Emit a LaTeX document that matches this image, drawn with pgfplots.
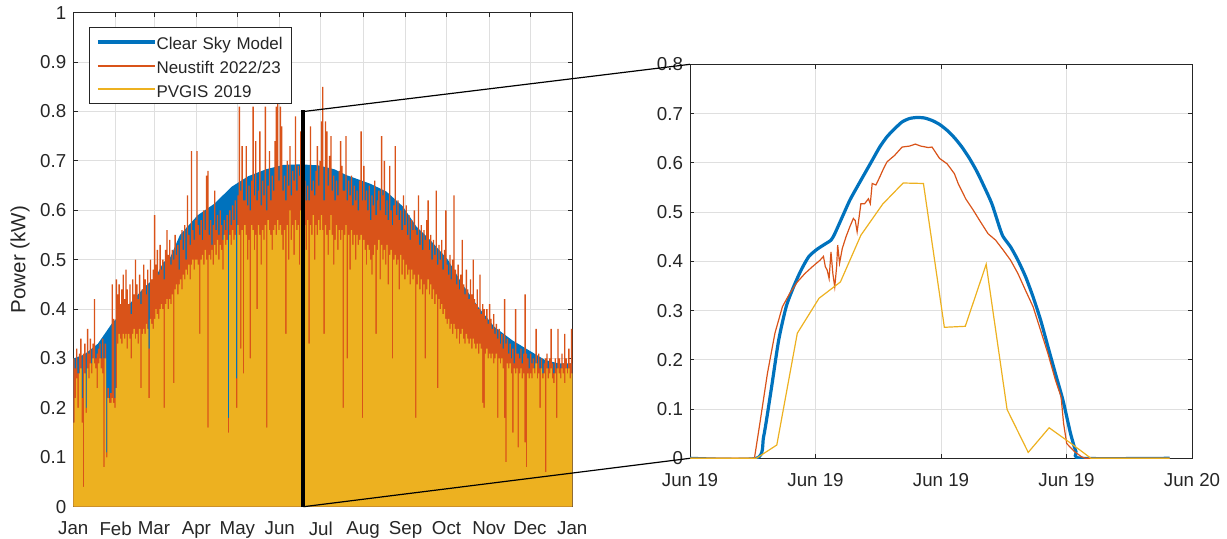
\documentclass[border=0pt]{standalone}
\usepackage{pgfplots}
\pgfplotsset{compat=1.18}
\usepackage{pgfplotstable}
\usepackage{fontspec}
\setmainfont{Liberation Sans}
\definecolor{mblue}{RGB}{0,114,189}
\definecolor{morange}{RGB}{217,83,25}
\definecolor{myellow}{RGB}{237,177,32}
\definecolor{maxis}{RGB}{38,38,38}
\definecolor{mgrid}{RGB}{223,223,223}

% daily peak power, day of year: d, Neustift n, PVGIS p
\pgfplotstableread{
d n p
0 0.30 0.17
1 0.28 0.22
2 0.32 0.26
3 0.27 0.20
4 0.31 0.27
5 0.34 0.28
6 0.22 0.17
7 0.31 0.04
8 0.33 0.27
9 0.20 0.19
10 0.36 0.28
11 0.31 0.26
12 0.34 0.29
13 0.29 0.27
14 0.33 0.30
15 0.42 0.29
16 0.30 0.28
17 0.31 0.24
18 0.32 0.29
19 0.33 0.30
20 0.30 0.28
21 0.34 0.27
22 0.30 0.08
23 0.33 0.30
24 0.11 0.10
25 0.24 0.22
26 0.22 0.21
27 0.23 0.21
28 0.45 0.22
29 0.38 0.21
30 0.22 0.20
31 0.46 0.24
32 0.43 0.33
33 0.45 0.35
34 0.41 0.34
35 0.44 0.33
36 0.47 0.35
37 0.42 0.34
38 0.48 0.35
39 0.44 0.32
40 0.41 0.35
41 0.45 0.34
42 0.39 0.30
43 0.46 0.35
44 0.43 0.36
45 0.50 0.34
46 0.45 0.35
47 0.42 0.33
48 0.47 0.36
49 0.41 0.24
50 0.44 0.35
51 0.49 0.36
52 0.46 0.35
53 0.43 0.37
54 0.48 0.36
55 0.32 0.22
56 0.50 0.38
57 0.46 0.37
58 0.48 0.36
59 0.59 0.38
60 0.49 0.40
61 0.52 0.39
62 0.47 0.38
63 0.53 0.40
64 0.48 0.41
65 0.50 0.40
66 0.46 0.20
67 0.52 0.41
68 0.56 0.42
69 0.51 0.40
70 0.54 0.42
71 0.49 0.41
72 0.52 0.43
73 0.50 0.25
74 0.55 0.44
75 0.51 0.45
76 0.53 0.43
77 0.48 0.45
78 0.54 0.46
79 0.56 0.44
80 0.52 0.47
81 0.57 0.46
82 0.50 0.48
83 0.63 0.47
84 0.55 0.49
85 0.53 0.46
86 0.72 0.49
87 0.56 0.50
88 0.54 0.48
89 0.58 0.50
90 0.72 0.50
91 0.57 0.49
92 0.55 0.35
93 0.58 0.50
94 0.54 0.51
95 0.60 0.49
96 0.56 0.52
97 0.67 0.50
98 0.68 0.16
99 0.55 0.51
100 0.58 0.50
101 0.53 0.52
102 0.57 0.49
103 0.64 0.53
104 0.56 0.51
105 0.59 0.54
106 0.55 0.50
107 0.60 0.53
108 0.57 0.52
109 0.54 0.48
110 0.58 0.55
111 0.56 0.53
112 0.59 0.54
113 0.18 0.15
114 0.60 0.55
115 0.57 0.53
116 0.61 0.56
117 0.58 0.54
118 0.62 0.55
119 0.26 0.20
120 0.63 0.57
121 0.81 0.55
122 0.64 0.32
123 0.73 0.56
124 0.62 0.27
125 0.62 0.57
126 0.73 0.55
127 0.61 0.50
128 0.65 0.54
129 0.60 0.30
130 0.66 0.57
131 0.81 0.56
132 0.63 0.52
133 0.74 0.55
134 0.62 0.40
135 0.64 0.57
136 0.76 0.55
137 0.61 0.49
138 0.66 0.56
139 0.63 0.54
140 0.81 0.57
141 0.60 0.16
142 0.65 0.58
143 0.72 0.56
144 0.62 0.55
145 0.67 0.52
146 0.64 0.56
147 0.74 0.57
148 0.81 0.55
149 0.83 0.58
150 0.66 0.56
151 0.81 0.57
152 0.77 0.55
153 0.64 0.52
154 0.67 0.56
155 0.62 0.35
156 0.70 0.57
157 0.65 0.50
158 0.73 0.60
159 0.63 0.54
160 0.68 0.57
161 0.66 0.51
162 0.79 0.58
163 0.64 0.56
164 0.69 0.57
165 0.67 0.49
166 0.76 0.60
167 0.63 0.56
168 0.64 0.56
169 0.66 0.57
170 0.62 0.52
171 0.65 0.58
172 0.62 0.33
173 0.77 0.57
174 0.64 0.55
175 0.66 0.59
176 0.63 0.50
177 0.68 0.57
178 0.73 0.55
179 0.65 0.58
180 0.70 0.56
181 0.78 0.59
182 0.85 0.56
183 0.62 0.35
184 0.78 0.57
185 0.76 0.55
186 0.65 0.51
187 0.71 0.56
188 0.75 0.59
189 0.64 0.55
190 0.67 0.49
191 0.62 0.54
192 0.66 0.57
193 0.63 0.52
194 0.68 0.56
195 0.74 0.54
196 0.69 0.56
197 0.64 0.20
198 0.64 0.55
199 0.75 0.57
200 0.62 0.30
201 0.66 0.55
202 0.63 0.48
203 0.67 0.56
204 0.61 0.53
205 0.65 0.55
206 0.62 0.50
207 0.64 0.55
208 0.60 0.53
209 0.66 0.54
210 0.76 0.55
211 0.62 0.18
212 0.69 0.54
213 0.62 0.52
214 0.64 0.49
215 0.60 0.53
216 0.65 0.52
217 0.58 0.50
218 0.63 0.47
219 0.61 0.51
220 0.66 0.53
221 0.59 0.35
222 0.62 0.52
223 0.64 0.54
224 0.60 0.46
225 0.75 0.53
226 0.63 0.50
227 0.70 0.52
228 0.59 0.49
229 0.62 0.53
230 0.58 0.45
231 0.69 0.51
232 0.60 0.52
233 0.57 0.30
234 0.61 0.50
235 0.73 0.51
236 0.59 0.49
237 0.62 0.50
238 0.58 0.44
239 0.60 0.51
240 0.56 0.47
241 0.63 0.50
242 0.57 0.46
243 0.61 0.49
244 0.55 0.47
245 0.59 0.48
246 0.54 0.45
247 0.58 0.48
248 0.56 0.46
249 0.60 0.47
250 0.56 0.18
251 0.55 0.45
252 0.63 0.47
253 0.53 0.44
254 0.57 0.46
255 0.52 0.43
256 0.56 0.45
257 0.54 0.30
258 0.58 0.44
259 0.62 0.46
260 0.52 0.43
261 0.55 0.45
262 0.50 0.42
263 0.54 0.44
264 0.51 0.41
265 0.64 0.43
266 0.49 0.24
267 0.53 0.42
268 0.50 0.40
269 0.54 0.41
270 0.48 0.39
271 0.52 0.40
272 0.60 0.38
273 0.49 0.37
274 0.47 0.38
275 0.51 0.36
276 0.46 0.37
277 0.50 0.35
278 0.63 0.37
279 0.48 0.36
280 0.45 0.34
281 0.49 0.36
282 0.44 0.33
283 0.47 0.35
284 0.54 0.36
285 0.45 0.34
286 0.43 0.33
287 0.48 0.35
288 0.44 0.34
289 0.42 0.33
290 0.46 0.34
291 0.43 0.32
292 0.50 0.34
293 0.42 0.33
294 0.41 0.32
295 0.44 0.33
296 0.40 0.31
297 0.47 0.33
298 0.39 0.32
299 0.41 0.21
300 0.40 0.20
301 0.38 0.31
302 0.40 0.32
303 0.37 0.30
304 0.41 0.31
305 0.38 0.30
306 0.36 0.31
307 0.39 0.29
308 0.35 0.30
309 0.37 0.31
310 0.34 0.18
311 0.36 0.30
312 0.33 0.29
313 0.35 0.30
314 0.32 0.28
315 0.42 0.18
316 0.33 0.09
317 0.34 0.29
318 0.31 0.28
319 0.33 0.29
320 0.30 0.27
321 0.32 0.15
322 0.29 0.28
323 0.40 0.27
324 0.31 0.28
325 0.31 0.12
326 0.30 0.27
327 0.32 0.28
328 0.29 0.26
329 0.31 0.27
330 0.43 0.13
331 0.31 0.08
332 0.30 0.27
333 0.28 0.26
334 0.31 0.27
335 0.29 0.26
336 0.30 0.28
337 0.28 0.27
338 0.36 0.29
339 0.29 0.26
340 0.31 0.27
341 0.28 0.20
342 0.30 0.28
343 0.27 0.26
344 0.29 0.27
345 0.30 0.07
346 0.31 0.28
347 0.28 0.26
348 0.30 0.27
349 0.36 0.28
350 0.29 0.26
351 0.27 0.25
352 0.30 0.27
353 0.28 0.18
354 0.36 0.28
355 0.30 0.27
356 0.28 0.26
357 0.31 0.28
358 0.29 0.27
359 0.35 0.25
360 0.30 0.28
361 0.28 0.27
362 0.32 0.28
363 0.29 0.26
364 0.36 0.27
365 0.36 0.27
}\daily

\pgfplotsset{
  mstyle/.style={
    scale only axis,
    axis line style={maxis, line width=0.4bp},
    tick style={maxis, line width=0.4bp},
    major tick length=2.2bp,
    tick align=inside,
    grid=major,
    major grid style={mgrid, line width=0.4bp},
    tick label style={font=\fontsize{9.4}{11}\selectfont, text=maxis},
    xticklabel style={yshift=-4bp},
    /pgf/number format/assume math mode=true,
  },
}

\begin{document}
\begin{tikzpicture}
\useasboundingbox (0,0) rectangle (613.5bp,269.5bp);

\begin{axis}[mstyle,
  at={(36.65bp,16.15bp)}, anchor=south west,
  width=249.5bp, height=247bp,
  xmin=0, xmax=365, ymin=0, ymax=1,
  xtick={0,31,59,90,120,151,181,212,243,273,304,334,365},
  xticklabels={Jan,Feb,Mar,Apr,May,Jun,Jul,Aug,Sep,Oct,Nov,Dec,Jan},
  ytick={0,0.1,0.2,0.3,0.4,0.5,0.6,0.7,0.8,0.9,1},
  yticklabel style={/pgf/number format/fixed, /pgf/number format/precision=1},
  ylabel={Power (kW)},
  ylabel style={font=\fontsize{10.3}{12}\selectfont, text=maxis, at={(axis description cs:-0.1068,0.5)}, anchor=center},
  legend style={at={(axis description cs:0.032,0.9705)}, anchor=north west,
    draw=maxis, line width=0.4bp, fill=white,
    font=\fontsize{8.5}{10}\selectfont, text=maxis,
    inner xsep=3.35bp, inner ysep=3bp, row sep=3.55bp,
    nodes={inner sep=0pt, text height=8bp, text depth=0.3bp, text width=64.2bp},
    /tikz/every even column/.append style={column sep=2.35bp}},
  legend cell align=left,
  legend image code/.code={\draw[#1] (0bp,0bp) -- (28.5bp,0bp);},
]
\addlegendimage{draw=mblue, line width=1.6bp}
\addlegendentry{Clear Sky Model}
\addlegendimage{draw=morange, line width=1.05bp}
\addlegendentry{Neustift 2022/23}
\addlegendimage{draw=myellow, line width=1.05bp}
\addlegendentry{PVGIS 2019}

\addplot[fill=mblue, draw=none, forget plot] coordinates {
(0,0.300) (8,0.308) (18,0.330) (28,0.370) (41,0.410) (53,0.447) (60,0.464)
(66,0.495) (71,0.505) (78,0.550) (91,0.590) (103,0.613) (116,0.648)
(128,0.669) (141,0.683) (154,0.692) (166,0.693) (179,0.691) (191,0.683)
(200,0.671) (217,0.654) (229,0.638) (241,0.608) (251,0.567) (261,0.540)
(274,0.500) (284,0.453) (296,0.405) (308,0.364) (321,0.337) (333,0.317)
(345,0.297) (355,0.290) (365,0.290)} \closedcycle;
\addplot[const plot, fill=morange, draw=none, forget plot] table[x=d, y=n] {\daily} \closedcycle;
\addplot[const plot, fill=myellow, draw=none, forget plot] table[x=d, y=p] {\daily} \closedcycle;

\draw[black, line width=1.15bp] (axis cs:167.5,0) rectangle (axis cs:168.5,0.8);
\coordinate (LT) at (axis cs:168.5,0.8);
\coordinate (LB) at (axis cs:168.5,0);
\end{axis}

\begin{axis}[mstyle,
  at={(345bp,40.35bp)}, anchor=south west,
  width=251bp, height=197bp,
  xmin=0, xmax=24, ymin=0, ymax=0.8,
  xtick={0,6,12,18,24},
  xticklabels={Jun 19,Jun 19,Jun 19,Jun 19,Jun 20},
  ytick={0,0.1,0.2,0.3,0.4,0.5,0.6,0.7,0.8},
  yticklabel style={/pgf/number format/fixed, /pgf/number format/precision=1},
]
\addplot[mblue, line width=1.6bp, smooth, tension=0.4] coordinates {
(0,0) (3.17,0) (3.52,0.044) (3.88,0.139) (4.24,0.240) (4.60,0.308) (4.95,0.348)
(5.31,0.382) (5.67,0.409) (6.03,0.423) (6.38,0.433) (6.74,0.443) (6.92,0.456)
(7.28,0.490) (7.64,0.524) (7.99,0.551) (8.35,0.578) (8.71,0.605) (9.07,0.632)
(9.42,0.653) (9.78,0.669) (10.14,0.683) (10.50,0.690) (10.85,0.692) (11.21,0.691)
(11.57,0.686) (11.93,0.678) (12.29,0.666) (12.64,0.651) (13.00,0.632) (13.36,0.609)
(13.72,0.582) (14.07,0.551) (14.43,0.517) (14.79,0.470) (14.97,0.450) (15.33,0.429)
(15.68,0.402) (16.04,0.369) (16.40,0.328) (16.76,0.281) (17.11,0.227) (17.47,0.172)
(17.83,0.118) (18.19,0.051) (18.45,0.014) (18.72,0) (22.93,0)};
\addplot[morange, line width=0.6bp] coordinates {
(0,0) (3.08,0) (3.34,0.071) (3.70,0.172) (4.06,0.254) (4.42,0.308) (4.77,0.335)
(5.13,0.358) (5.49,0.375) (5.85,0.389) (6.21,0.402) (6.38,0.410) (6.47,0.389)
(6.56,0.382) (6.65,0.365) (6.74,0.419) (6.83,0.375) (6.92,0.348) (7.01,0.389)
(7.06,0.433) (7.15,0.396) (7.28,0.426) (7.46,0.450) (7.64,0.470) (7.81,0.487)
(7.90,0.483) (7.99,0.460) (8.17,0.517) (8.35,0.517) (8.53,0.527) (8.62,0.517)
(8.71,0.558) (8.89,0.555) (9.07,0.571) (9.25,0.588) (9.42,0.602) (9.78,0.615)
(10.14,0.632) (10.50,0.634) (10.77,0.638) (11.03,0.634) (11.39,0.631) (11.57,0.632)
(11.93,0.609) (12.29,0.598) (12.64,0.578) (12.82,0.558) (13.18,0.527) (13.54,0.504)
(13.89,0.480) (14.25,0.456) (14.61,0.443) (14.97,0.423) (15.33,0.402) (15.68,0.375)
(16.04,0.341) (16.40,0.308) (16.76,0.260) (17.11,0.213) (17.47,0.159) (17.74,0.125)
(17.86,0.071) (18.01,0.030) (18.37,0.014) (18.72,0.003) (18.90,0) (22.93,0)};
\addplot[myellow, line width=0.6bp] coordinates {
(0,0) (3.17,0) (4.15,0.027) (5.13,0.254) (6.17,0.325) (7.19,0.358) (8.17,0.453)
(9.21,0.516) (10.19,0.559) (11.16,0.558) (12.16,0.266) (13.16,0.268) (14.16,0.394)
(15.16,0.099) (16.17,0.012) (17.17,0.062) (18.19,0.031) (19.17,0) (22.93,0)};
\coordinate (RT) at (rel axis cs:0,1);
\coordinate (RB) at (rel axis cs:0,0);
\end{axis}

\draw[black, line width=0.6bp] (LT) -- (RT);
\draw[black, line width=0.6bp] (LB) -- (RB);
\end{tikzpicture}
\end{document}
